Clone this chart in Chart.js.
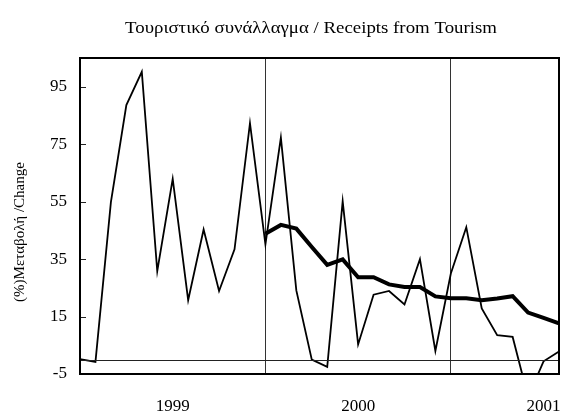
<!DOCTYPE html>
<html><head><meta charset="utf-8">
<script src="https://cdn.jsdelivr.net/npm/chart.js@4/dist/chart.umd.min.js"></script>
<style>html,body{margin:0;padding:0;background:#fff}</style>
</head><body>
<canvas id="c" width="561" height="416"></canvas>
<script>
// ---- data ----
const months = [
  '1999-01','1999-02','1999-03','1999-04','1999-05','1999-06','1999-07','1999-08','1999-09','1999-10','1999-11','1999-12',
  '2000-01','2000-02','2000-03','2000-04','2000-05','2000-06','2000-07','2000-08','2000-09','2000-10','2000-11','2000-12',
  '2001-01','2001-02','2001-03','2001-04','2001-05','2001-06','2001-07','2001-08'
];
const monthlyChange = [
  0.2, -0.8, 54.8, 88.6, 100.2, 30.8, 62.9, 20.7, 45.3, 23.9, 38.4, 82.3,
  40.1, 77.3, 24.1, 0.0, -2.5, 55.1, 5.3, 22.6, 23.9, 19.2, 35.0, 3.0,
  30.0, 46.1, 17.8, 8.5, 7.9, -13.0, -0.6, 2.8
];
const movingAvg = [
  null, null, null, null, null, null, null, null, null, null, null, null,
  43.8, 46.9, 45.6, 39.2, 33.0, 34.9, 28.7, 28.7, 26.2, 25.3, 25.3, 22.0,
  21.4, 21.4, 20.7, 21.3, 22.1, 16.4, 14.5, 12.6
];
const yTicks = [-5, 15, 35, 55, 75, 95];
const titleText = 'Τουριστικό συνάλλαγμα / Receipts from Tourism';
const yTitleText = '(%)Μεταβολή /Change';

const FONT = '"Liberation Serif", "Times New Roman", serif';

const decor = {
  id: 'decor',
  afterDraw(chart) {
    const {ctx, chartArea: a, scales} = chart;
    const y = scales.y;
    ctx.save();
    // zero line
    ctx.strokeStyle = '#222'; ctx.lineWidth = 1;
    const y0 = Math.round(y.getPixelForValue(0)) + 0.5;
    ctx.beginPath(); ctx.moveTo(a.left, y0); ctx.lineTo(a.right, y0); ctx.stroke();
    // inner tick marks on y axis
    yTicks.forEach(v => {
      const py = Math.round(y.getPixelForValue(v)) + 0.5;
      ctx.beginPath(); ctx.moveTo(a.left, py); ctx.lineTo(a.left + 6, py); ctx.stroke();
    });
    // frame
    ctx.strokeStyle = '#000'; ctx.lineWidth = 2;
    ctx.strokeRect(a.left, a.top, a.right - a.left, a.bottom - a.top);
    // title (horizontally condensed like the original)
    ctx.fillStyle = '#000';
    ctx.font = '17px ' + FONT;
    ctx.textBaseline = 'alphabetic';
    const w = ctx.measureText(titleText).width;
    const sx = 372 / w;
    ctx.save();
    ctx.translate(125, 33);
    ctx.scale(sx, 1);
    ctx.textAlign = 'left';
    ctx.fillText(titleText, 0, 0);
    ctx.restore();
    // y-axis title
    ctx.save();
    ctx.translate(24, 232);
    ctx.rotate(-Math.PI / 2);
    ctx.font = '15px ' + FONT;
    ctx.textAlign = 'center';
    ctx.textBaseline = 'alphabetic';
    ctx.fillText(yTitleText, 0, 0);
    ctx.restore();
    ctx.restore();
  }
};

new Chart(document.getElementById('c'), {
  type: 'line',
  data: {
    labels: months,
    datasets: [
      { label: 'monthly', data: monthlyChange, borderColor: '#000', borderWidth: 1.8,
        pointRadius: 0, tension: 0, fill: false },
      { label: 'trend', data: movingAvg, borderColor: '#000', borderWidth: 4,
        pointRadius: 0, tension: 0, fill: false, spanGaps: false }
    ]
  },
  options: {
    responsive: false,
    animation: false,
    layout: { padding: { top: 58, right: 2, left: 0, bottom: 0 } },
    plugins: { legend: { display: false }, title: { display: false }, tooltip: { enabled: false } },
    scales: {
      x: {
        type: 'category',
        offset: false,
        afterFit: s => { s.height = 42; s.paddingLeft = 0; s.paddingRight = 0; },
        border: { display: false },
        grid: {
          drawTicks: false,
          lineWidth: 1,
          color: c => (c.index === 12 || c.index === 24) ? '#333' : 'rgba(0,0,0,0)'
        },
        ticks: {
          autoSkip: false, maxRotation: 0, padding: 22, color: '#000',
          font: { family: FONT, size: 17 },
          callback: function(v, i) { const m = months[i]; return m.endsWith('-07') ? m.slice(0, 4) : ''; }
        }
      },
      y: {
        min: -5, max: 105,
        afterFit: s => { s.width = 80; },
        afterBuildTicks: s => { s.ticks = yTicks.map(v => ({ value: v })); },
        border: { display: false },
        grid: { display: false, drawTicks: false },
        ticks: { padding: 13, color: '#000', font: { family: FONT, size: 17 } }
      }
    }
  },
  plugins: [decor]
});
</script>
</body></html>
